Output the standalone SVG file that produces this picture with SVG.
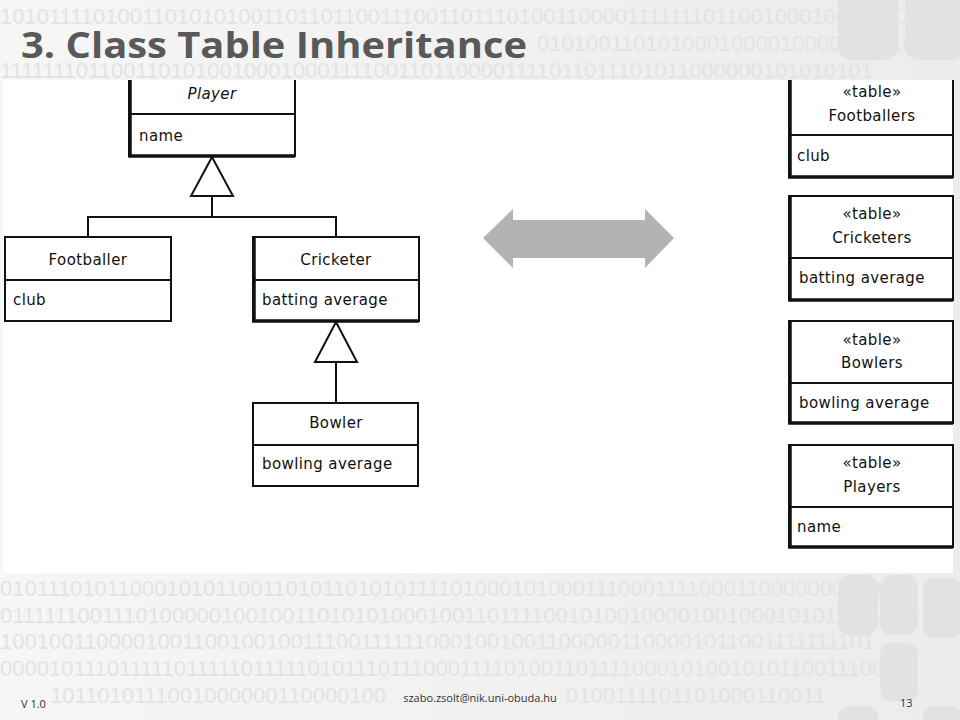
<svg xmlns="http://www.w3.org/2000/svg" width="960" height="720" viewBox="0 0 960 720">
<style>
.bin{font-family:"Liberation Sans",Arial,sans-serif;font-size:22px;fill:#e3e3e3;}
.box{fill:#fff;stroke:#111;stroke-width:2;}
.sh{fill:none;stroke:#111;stroke-width:3.5;}
.ln{fill:none;stroke:#111;stroke-width:2;}
.tri{fill:#fff;stroke:#111;stroke-width:2;}
.t{font-family:"DejaVu Sans",sans-serif;font-size:15px;fill:#111;letter-spacing:0.4px;}
.c{text-anchor:middle;}
.ft{font-family:"Open Sans","Liberation Sans",sans-serif;font-size:11px;fill:#333;}
.deco{fill:#e2e2e2;}
</style>
<defs>
<linearGradient id="bg" x1="0" y1="0" x2="1" y2="0">
<stop offset="0" stop-color="#f6f6f6"/>
<stop offset="1" stop-color="#ececec"/>
</linearGradient>
<clipPath id="wc"><rect x="3" y="80" width="953" height="493"/></clipPath>
</defs>
<rect width="960" height="720" fill="url(#bg)"/>
<g id="decoration">
<rect class="deco" x="838" y="-20" width="60" height="80" rx="14"/>
<rect class="deco" x="905" y="-20" width="60" height="80" rx="14" fill="#e8e8e8"/>
<rect class="deco" x="838" y="575" width="40" height="60" rx="12"/>
<rect class="deco" x="880" y="575" width="38" height="60" rx="12" fill="#e6e6e6"/>
<rect class="deco" x="923" y="578" width="40" height="60" rx="12" fill="#dcdcdc"/>
<rect class="deco" x="880" y="643" width="38" height="58" rx="12" fill="#d6d6d6"/>
<rect class="deco" x="923" y="706" width="40" height="30" rx="12" fill="#e0e0e0"/>
<rect class="deco" x="838" y="706" width="40" height="30" rx="12" fill="#e6e6e6"/>
</g>
<g id="binary">
<text class="bin" x="0" y="24">10101111010011010101001101101100111001101110100110000111111101100100010010110</text>
<text class="bin" x="537" y="51">0101001101010001000010000000010</text>
<text class="bin" x="0" y="78">11111110110011010100100010001111001101100001111011011101011000000101010101</text>
<text class="bin" x="0" y="596">01011101011000101011001101011010101111010001010001110001111000110000000000010</text>
<text class="bin" x="0" y="623">01111110011101000001001001101010100010011011110010100100001001000101011011010</text>
<text class="bin" x="0" y="649">10010011000010011001001001110011111100010010011000001100001011001111111101</text>
<text class="bin" x="0" y="676">00001011101111101111101111101011101110001111010011011110001010010101100111001</text>
<text class="bin" x="50" y="703">1011010111001000000110000100</text>
<text class="bin" x="566" y="703">0100111101101000110011</text>
</g>
<text id="title" x="21" y="58" font-family="Open Sans, Liberation Sans, sans-serif" font-size="36" font-weight="bold" fill="#595959" textLength="506" lengthAdjust="spacingAndGlyphs">3. Class Table Inheritance</text>
<rect id="content" x="3" y="80" width="950" height="493" fill="#fff"/>
<g clip-path="url(#wc)">
<g id="connectors">
<polyline class="ln" points="212,196 212,217"/>
<polyline class="ln" points="88,237 88,217 336,217 336,237"/>
<polygon class="tri" points="212,157 191,196 233,196"/>
<polyline class="ln" points="336,362 336,403"/>
<polygon class="tri" points="336,322 315,362 357,362"/>
<polygon id="mapping-arrow" fill="#b3b3b3" points="483,238 513,209 513,220 645,220 645,209 674,238 645,268 645,258 513,258 513,268"/>
</g>
<g id="player">
<rect class="box" x="129" y="60" width="166" height="96"/>
<polyline class="sh" points="130,60 130,156 295,156"/>
<line class="ln" x1="129" y1="114" x2="295" y2="114"/>
<text class="t c" x="212" y="99" font-style="italic">Player</text>
<text class="t" x="139" y="141">name</text>
</g>
<g id="footballer">
<rect class="box" x="5" y="237" width="166" height="84"/>
<line class="ln" x1="5" y1="280" x2="171" y2="280"/>
<text class="t c" x="88" y="265">Footballer</text>
<text class="t" x="13" y="305">club</text>
</g>
<g id="cricketer">
<rect class="box" x="253" y="237" width="166" height="84"/>
<polyline class="sh" points="254,237 254,321 419,321"/>
<line class="ln" x1="253" y1="280" x2="419" y2="280"/>
<text class="t c" x="336" y="265">Cricketer</text>
<text class="t" x="262" y="305">batting average</text>
</g>
<g id="bowler">
<rect class="box" x="253" y="403" width="165" height="83"/>
<line class="ln" x1="253" y1="445" x2="418" y2="445"/>
<text class="t c" x="336" y="428">Bowler</text>
<text class="t" x="262" y="469">bowling average</text>
</g>
<g id="footballers-table">
<rect class="box" x="789" y="60" width="164" height="117"/>
<polyline class="sh" points="790,60 790,177 953,177"/>
<line class="ln" x1="789" y1="135" x2="953" y2="135"/>
<text class="t c" x="872" y="97">«table»</text>
<text class="t c" x="872" y="121">Footballers</text>
<text class="t" x="797" y="161">club</text>
</g>
<g id="cricketers-table">
<rect class="box" x="789" y="196" width="164" height="104"/>
<polyline class="sh" points="790,196 790,300 953,300"/>
<line class="ln" x1="789" y1="258" x2="953" y2="258"/>
<text class="t c" x="872" y="219">«table»</text>
<text class="t c" x="872" y="243">Cricketers</text>
<text class="t" x="799" y="283">batting average</text>
</g>
<g id="bowlers-table">
<rect class="box" x="789" y="321" width="164" height="102"/>
<polyline class="sh" points="790,321 790,423 953,423"/>
<line class="ln" x1="789" y1="383" x2="953" y2="383"/>
<text class="t c" x="872" y="345">«table»</text>
<text class="t c" x="872" y="368">Bowlers</text>
<text class="t" x="799" y="408">bowling average</text>
</g>
<g id="players-table">
<rect class="box" x="789" y="445" width="164" height="102"/>
<polyline class="sh" points="790,445 790,547 953,547"/>
<line class="ln" x1="789" y1="507" x2="953" y2="507"/>
<text class="t c" x="872" y="468">«table»</text>
<text class="t c" x="872" y="492">Players</text>
<text class="t" x="797" y="532">name</text>
</g>
</g>
<g id="footer">
<text class="ft" x="21" y="708">V 1.0</text>
<text class="ft" x="480" y="702" text-anchor="middle">szabo.zsolt@nik.uni-obuda.hu</text>
<text class="ft" x="900" y="707">13</text>
</g>
</svg>
